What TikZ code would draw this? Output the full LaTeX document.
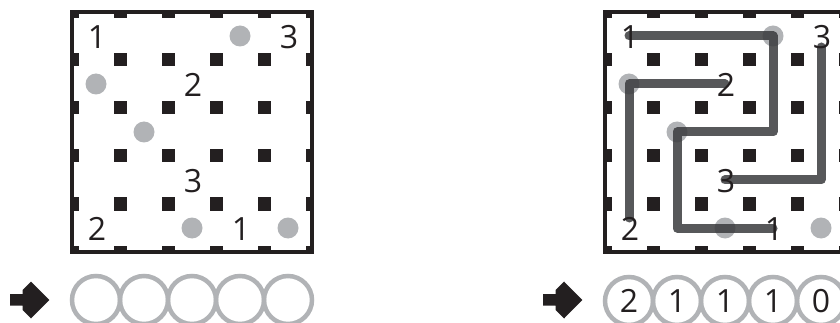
\documentclass[tikz,border=0pt]{standalone}
\usepackage{fontspec}
\setmainfont{Open Sans}
\definecolor{dotgrey}{HTML}{B1B3B6}
\definecolor{pathgrey}{HTML}{3A3B3D}
\definecolor{ink}{HTML}{231F20}
\begin{document}
\begin{tikzpicture}[x=1pt,y=-1pt,
  num/.style={font=\fontsize{32}{32}\selectfont, text=ink, inner sep=0pt, anchor=center},
  spot/.style={circle, fill=dotgrey, minimum size=21pt, inner sep=0pt},
  ring/.style={circle, draw=dotgrey, line width=4.5pt, minimum size=48pt, inner sep=0pt, text=ink, font=\fontsize{32}{32}\selectfont},
  route/.style={draw=pathgrey, line width=9pt, line cap=round, line join=round, opacity=0.85},
  frame/.style={draw=ink, line width=3.5pt},
  peg/.style={fill=ink},
  pointer/.style={fill=ink}]
\useasboundingbox (0,0) rectangle (840,323);
\clip (0,0) rectangle (840,323);

% boards
\foreach \ox in {0,533} {
  \begin{scope}[xshift=\ox pt]
    \begin{scope}
      \clip (72,12) rectangle (312,252);
      \foreach \i in {0,...,5} \foreach \j in {0,...,5}
        \fill[peg] ({72+48*\i-6.5},{12+48*\j-6.5}) rectangle +(13,13);
    \end{scope}
    \draw[frame] (72,12) rectangle (312,252);
    \fill[pointer] (10,294) -- (22.7,294) -- (22.7,290) -- (31,281.5) -- (49.3,300)
      -- (31,318.5) -- (22.7,310) -- (22.7,305.5) -- (10,305.5) -- cycle;
  \end{scope}
}

% left board
\node[spot] (Ls1) at (240,36) {};
\node[spot] (Ls2) at (96,84) {};
\node[spot] (Ls3) at (144,132) {};
\node[spot] (Ls4) at (192,228) {};
\node[spot] (Ls5) at (288,228) {};
\node[num] (L1a) at (97,37) {1};
\node[num] (L3a) at (289,37) {3};
\node[num] (L2a) at (193,85) {2};
\node[num] (L3b) at (193,181) {3};
\node[num] (L2b) at (97,229) {2};
\node[num] (L1b) at (241,229) {1};

% right board
\node[spot] (Rs1) at (773,36) {};
\node[spot] (Rs2) at (629,84) {};
\node[spot] (Rs3) at (677,132) {};
\node[spot] (Rs4) at (725,228) {};
\node[spot] (Rs5) at (821,228) {};
\coordinate (R1s) at (629,36);
\coordinate (R1e) at (773,228);
\coordinate (R2s) at (725,84);
\coordinate (R2e) at (629,228);
\coordinate (R3s) at (821,36);
\coordinate (R3e) at (725,180);
\draw[route] (R1s) -- (Rs1.center) -- (773,132) -- (Rs3.center) -- (677,228) -- (R1e);
\draw[route, shorten >=10pt] (R2s) -- (Rs2.center) -- (R2e);
\draw[route, shorten <=11pt] (R3s) -- (821,180) -- (R3e);
\node[num] (R1a) at (630,37) {1};
\node[num] (R3a) at (822,37) {3};
\node[num] (R2a) at (726,85) {2};
\node[num] (R3b) at (726,181) {3};
\node[num] (R2b) at (630,229) {2};
\node[num] (R1b) at (774,229) {1};

% answer rings
\foreach \k in {1,...,5}
  \node[ring] (Lr\k) at ({48+48*\k},300) {};
\node[ring] (Rr1) at (629,301) {2};
\node[ring] (Rr2) at (677,301) {1};
\node[ring] (Rr3) at (725,301) {1};
\node[ring] (Rr4) at (773,301) {1};
\node[ring] (Rr5) at (821,301) {0};
\end{tikzpicture}
\end{document}
